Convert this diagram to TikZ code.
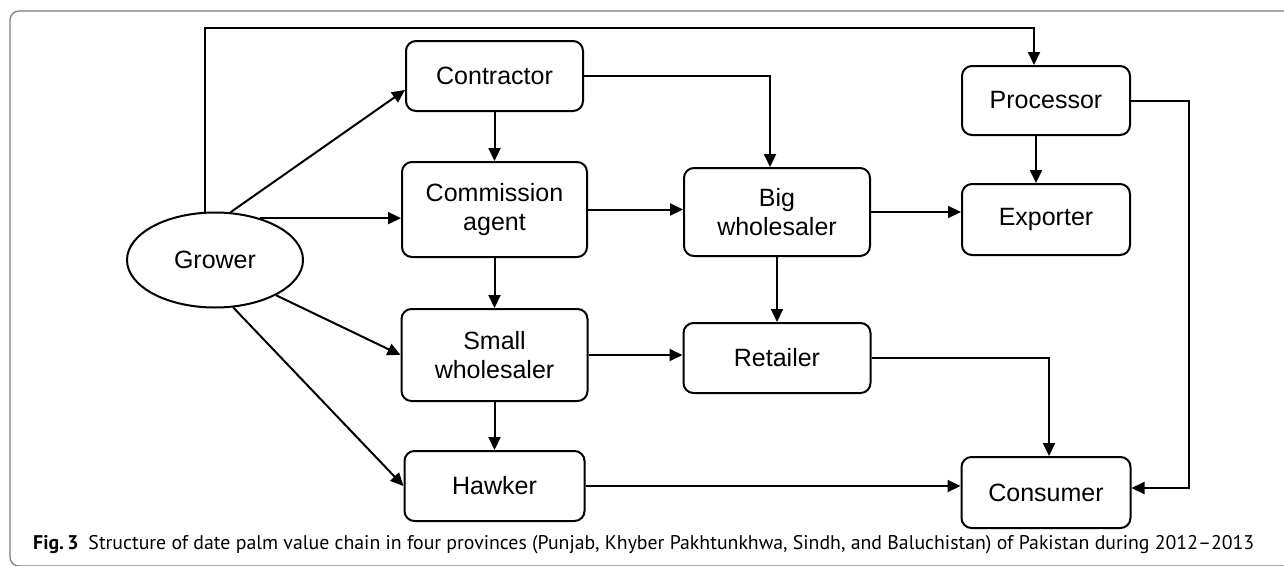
\documentclass[tikz,border=0pt]{standalone}
\usepackage{fontspec}
\setmainfont{Liberation Sans}
\newfontfamily\capfont{PT Sans}
\usetikzlibrary{arrows.meta,positioning,shapes.geometric}
\definecolor{ink}{HTML}{000000}
\definecolor{frame}{HTML}{7A7A7A}
\tikzset{
  base/.style={font=\fontsize{25}{29}\selectfont,align=center,draw=ink,line width=2pt,fill=white,inner sep=2pt},
  actor/.style={base,rounded corners=10pt,minimum width=177pt,minimum height=70pt},
  origin/.style={base,ellipse,minimum width=176pt,minimum height=95pt,inner sep=0pt},
  flow/.style={-{Triangle[length=13pt,width=12pt]},line width=2pt,draw=ink},
  border/.style={draw=frame,line width=1.2pt,rounded corners=9pt},
  caption/.style={font=\capfont\fontsize{19.8}{23}\selectfont,inner sep=0pt,anchor=base west}
}

\begin{document}
\begin{tikzpicture}[x=1pt,y=-1pt]
\useasboundingbox (0,0) rectangle (1284,565);
\draw[border] (10,11) rectangle (1300,566);

\node[origin] (grower) at (215,260) {Grower};
\node[actor,minimum width=185pt,minimum height=95pt] (comm) at (494.5,209.5) {Commission\\agent};
\node[actor,above=49pt of comm] (contr) {Contractor};
\node[actor,minimum width=186pt,minimum height=92pt,below=50pt of comm] (small) {Small\\wholesaler};
\node[actor,minimum width=180pt,below=48pt of small] (hawker) {Hawker};
\node[actor,minimum width=186pt,minimum height=88pt,right=95pt of comm,yshift=-2.5pt] (big) {Big\\wholesaler};
\node[actor,minimum width=187pt,below=65pt of big] (ret) {Retailer};
\node[actor,minimum width=168pt,minimum height=71pt,right=90pt of big,yshift=-7.5pt] (exp) {Exporter};
\node[actor,minimum width=168pt,minimum height=69pt,above=47pt of exp] (proc) {Processor};
\node[actor,minimum width=169pt,minimum height=71pt,below=200pt of exp] (cons) {Consumer};

\node[caption] (cap) at (33,549) {\textbf{Fig.\,3}\hspace{0.5em}Structure of date palm value chain in four provinces (Punjab, Khyber Pakhtunkhwa, Sindh, and Baluchistan) of Pakistan during 2012–2013};

\coordinate (ceil) at (205,28);
\draw[flow] (grower.north -| ceil) -- (ceil) -| ([xshift=-12pt]proc.north);
\draw[flow] (grower.72) -- ([yshift=-14pt]contr.west);
\draw[flow] (grower.43) -- (grower.43 -| comm.west);
\draw[flow] (grower.-30) -- (small.west);
\draw[flow] (grower.-69) -- (hawker.west);
\draw[flow] (contr.south) -- (contr.south |- comm.north);
\draw[flow] (comm.south) -- (comm.south |- small.north);
\draw[flow] (small.south) -- (small.south |- hawker.north);
\draw[flow] (contr.east) -| ([xshift=-7pt]big.north);
\draw[flow] (comm.east) -- (comm.east -| big.west);
\draw[flow] (big.east) -- (big.east -| exp.west);
\draw[flow] ([xshift=-10pt]proc.south) -- ([xshift=-10pt]exp.north);
\draw[flow] (big.south) -- (big.south |- ret.north);
\draw[flow] (small.east) -- (small.east -| ret.west);
\draw[flow] (ret.east) -| ([xshift=3pt]cons.north);
\draw[flow] (hawker.east) -- (hawker.east -| cons.west);
\draw[flow] (proc.east) -- ++(58,0) |- ([yshift=4.5pt]cons.east);
\end{tikzpicture}
\end{document}
